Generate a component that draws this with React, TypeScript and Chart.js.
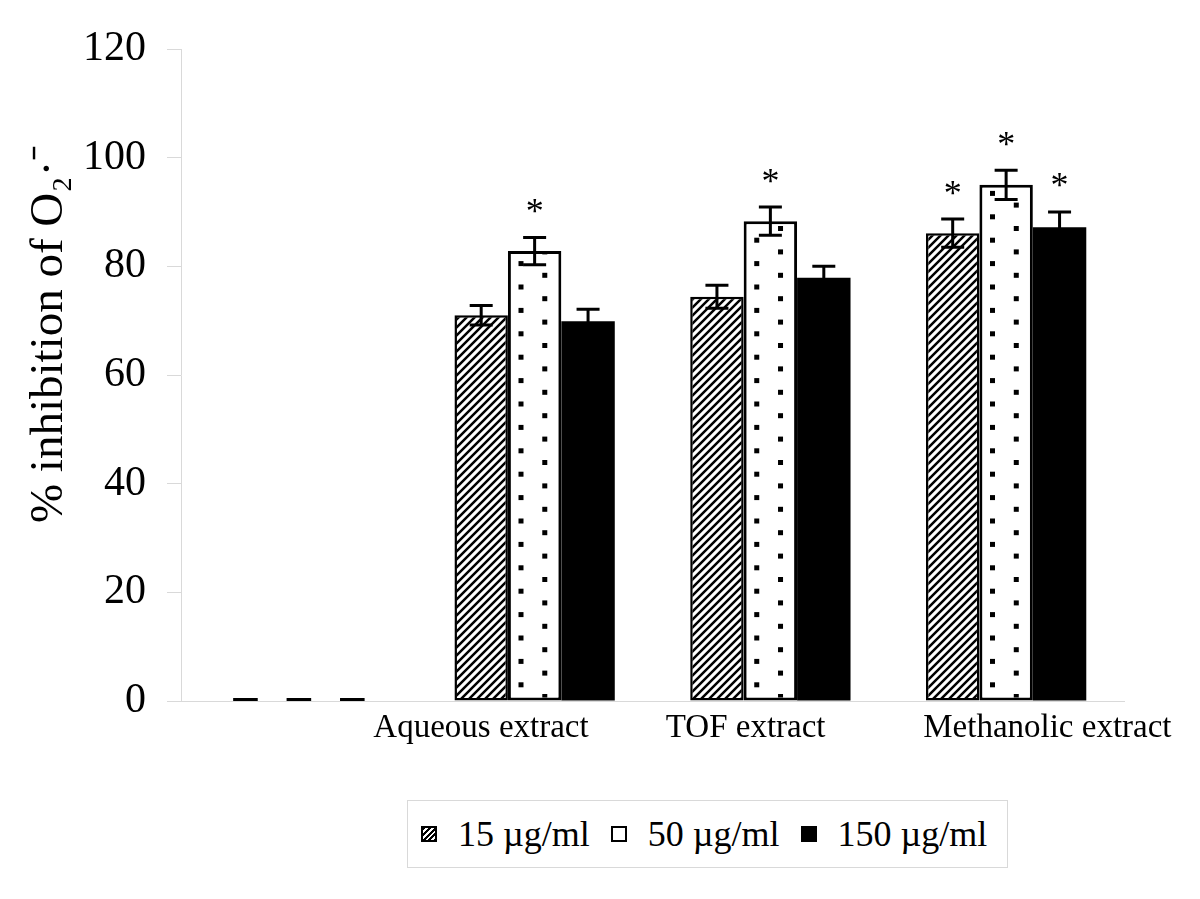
import React, { useEffect, useRef } from 'react';
import { Chart, registerables } from 'chart.js';

Chart.register(...registerables);

// ---- data ----
const categories = ['', 'Aqueous extract', 'TOF extract', 'Methanolic extract'];
const seriesNames = ['15 µg/ml', '50 µg/ml', '150 µg/ml'];
const values15 = [0, 71.0, 74.4, 86.1];
const values50 = [0, 82.8, 88.3, 95.0];
const values150 = [0, 69.9, 77.9, 87.2];
const errors15 = [0, 1.8, 2.1, 2.6];
const errors50 = [0, 2.5, 2.6, 2.7];
const errors150 = [0, 2.2, 2.1, 2.8];
const star15 = [false, false, false, true];
const star50 = [false, true, true, true];
const star150 = [false, false, false, true];
const yTicks = [0, 20, 40, 60, 80, 100, 120];
const yTitle = '% inhibition of O₂·⁻';

const FONT = "'Liberation Serif', 'Times New Roman', serif";
// label nudging (style): spaces added before / after each category label
const labelPadBefore = [0, 0, 0, 10];
const labelPadAfter = [0, 13, 6, 0];
const titlePadBefore = 7;

function makeHatch(): CanvasPattern | string {
  const c = document.createElement('canvas');
  c.width = 8;
  c.height = 8;
  const g = c.getContext('2d');
  if (!g) return '#888';
  g.fillStyle = '#fff';
  g.fillRect(0, 0, 8, 8);
  g.strokeStyle = '#000';
  g.lineWidth = 2.5;
  g.beginPath();
  g.moveTo(-2, 10);
  g.lineTo(10, -2);
  g.moveTo(-2, 2);
  g.lineTo(2, -2);
  g.moveTo(6, 10);
  g.lineTo(10, 6);
  g.stroke();
  const p = g.createPattern(c, 'repeat');
  return p || '#888';
}

const errorsAll = [errors15, errors50, errors150];
const starsAll = [star15, star50, star150];

const decorPlugin = {
  id: 'decor',
  afterDatasetDraw(chart: any, args: any) {
    if (args.index !== 1) return;
    const ctx = chart.ctx;
    const meta = args.meta;
    ctx.save();
    ctx.fillStyle = '#000';
    meta.data.forEach((el: any) => {
      const { x, y, base, width } = el.getProps(['x', 'y', 'base', 'width'], true);
      if (Math.abs(base - y) < 1) return;
      const left = x - width / 2;
      const bw = 3;
      ctx.save();
      ctx.beginPath();
      ctx.rect(left + bw, y + bw, width - 2 * bw, base - y - 2 * bw);
      ctx.clip();
      const step = 23.4;
      const sq = 5;
      for (let k = 0; k < 60; k++) {
        const cyB = base - 4 - k * step;
        const cyA = cyB - step / 2;
        if (cyA < y - 10 && cyB < y - 10) break;
        ctx.fillRect(left + 0.69 * width - sq / 2, cyB - sq / 2, sq, sq);
        ctx.fillRect(left + 0.245 * width - sq / 2, cyA - sq / 2, sq, sq);
      }
      ctx.restore();
    });
    ctx.restore();
  },
  afterDatasetsDraw(chart: any) {
    const ctx = chart.ctx;
    const yScale = chart.scales.y;
    ctx.save();
    chart.data.datasets.forEach((ds: any, di: number) => {
      const meta = chart.getDatasetMeta(di);
      meta.data.forEach((el: any, i: number) => {
        const { x, width } = el.getProps(['x', 'width'], true);
        const v = ds.data[i];
        const e = errorsAll[di][i];
        if (v === 0) {
          const base = yScale.getPixelForValue(0);
          ctx.fillStyle = '#000';
          ctx.fillRect(x - width * 0.23, base - 3, width * 0.46, 3);
          return;
        }
        const yt = yScale.getPixelForValue(v + e);
        const yb = yScale.getPixelForValue(v - e);
        ctx.strokeStyle = '#000';
        ctx.lineWidth = 3;
        ctx.beginPath();
        ctx.moveTo(x, yt);
        ctx.lineTo(x, yb);
        ctx.moveTo(x - 11.5, yt);
        ctx.lineTo(x + 11.5, yt);
        ctx.moveTo(x - 11.5, yb);
        ctx.lineTo(x + 11.5, yb);
        ctx.stroke();
        if (starsAll[di][i]) {
          ctx.fillStyle = '#000';
          ctx.font = `36px ${FONT}`;
          ctx.textAlign = 'center';
          ctx.textBaseline = 'middle';
          ctx.fillText('*', x, yt - 24);
        }
      });
    });
    ctx.restore();
  },
};

export default function App() {
  const ref = useRef<HTMLCanvasElement | null>(null);

  useEffect(() => {
    if (!ref.current) return;
    const hatch = makeHatch();
    const chart = new Chart(ref.current, {
      type: 'bar',
      data: {
        labels: categories,
        datasets: [
          {
            label: seriesNames[0],
            data: values15,
            backgroundColor: hatch as any,
            borderColor: '#000',
            borderWidth: 2.5,
            borderSkipped: false,
          },
          {
            label: seriesNames[1],
            data: values50,
            backgroundColor: '#fff',
            borderColor: '#000',
            borderWidth: 3,
            borderSkipped: false,
          },
          {
            label: seriesNames[2],
            data: values150,
            backgroundColor: '#000',
            borderColor: '#000',
            borderWidth: 0,
            borderSkipped: false,
          },
        ],
      },
      options: {
        animation: false,
        responsive: true,
        maintainAspectRatio: false,
        categoryPercentage: 0.68,
        barPercentage: 1.0,
        layout: { padding: { left: 0, right: 68, top: 41, bottom: 0 } },
        plugins: {
          legend: { display: false },
          tooltip: { enabled: false },
        },
        scales: {
          x: {
            offset: true,
            grid: { display: true, drawOnChartArea: false, drawTicks: false },
            border: { display: true, color: '#d9d9d9', width: 1 },
            ticks: {
              color: '#000',
              font: { family: FONT, size: 33 },
              padding: 8,
              maxRotation: 0,
              autoSkip: false,
              callback: (_v: any, i: number) =>
                ' '.repeat(labelPadBefore[i]) + categories[i] + ' '.repeat(labelPadAfter[i]),
            },
            afterFit: (s: any) => {
              s.height = 190;
            },
          },
          y: {
            min: yTicks[0],
            max: yTicks[yTicks.length - 1],
            ticks: {
              stepSize: yTicks[1] - yTicks[0],
              color: '#000',
              font: { family: FONT, size: 42 },
              padding: 21,
            },
            grid: {
              display: true,
              drawOnChartArea: false,
              drawTicks: true,
              tickLength: 14,
              color: '#d9d9d9',
            },
            border: { display: true, color: '#d9d9d9', width: 1 },
            title: {
              display: true,
              text: ' '.repeat(titlePadBefore) + yTitle,
              color: '#000',
              font: { family: FONT, size: 47 },
              padding: { top: 13, bottom: 0 },
            },
            afterFit: (s: any) => {
              s.width = 173;
              s.paddingTop = 0;
              s.paddingBottom = 0;
            },
          },
        },
      } as any,
      plugins: [decorPlugin],
    });
    return () => chart.destroy();
  }, []);

  const swatch = (i: number): React.CSSProperties => ({
    display: 'inline-block',
    width: 16,
    height: 16,
    boxSizing: 'border-box',
    border: '2px solid #000',
    marginRight: 21,
    flex: '0 0 auto',
    background:
      i === 0
        ? 'repeating-linear-gradient(135deg, #000 0px, #000 2px, #fff 2px, #fff 4px)'
        : i === 1
        ? '#fff'
        : '#000',
  });

  return (
    <div style={{ position: 'relative', width: 1184, height: 883 }}>
      <canvas ref={ref} />
      <div
        style={{
          position: 'absolute',
          left: 399,
          top: 792,
          width: 601,
          height: 68,
          boxSizing: 'border-box',
          border: '1px solid #d9d9d9',
          display: 'flex',
          alignItems: 'center',
          paddingLeft: 13,
          fontFamily: FONT,
          fontSize: 36,
          color: '#000',
          whiteSpace: 'nowrap',
          background: '#fff',
        }}
      >
        {seriesNames.map((n, i) => (
          <span key={n} style={{ display: 'flex', alignItems: 'center', marginRight: 21 }}>
            <span style={swatch(i)} />
            <span>{n}</span>
          </span>
        ))}
      </div>
    </div>
  );
}
